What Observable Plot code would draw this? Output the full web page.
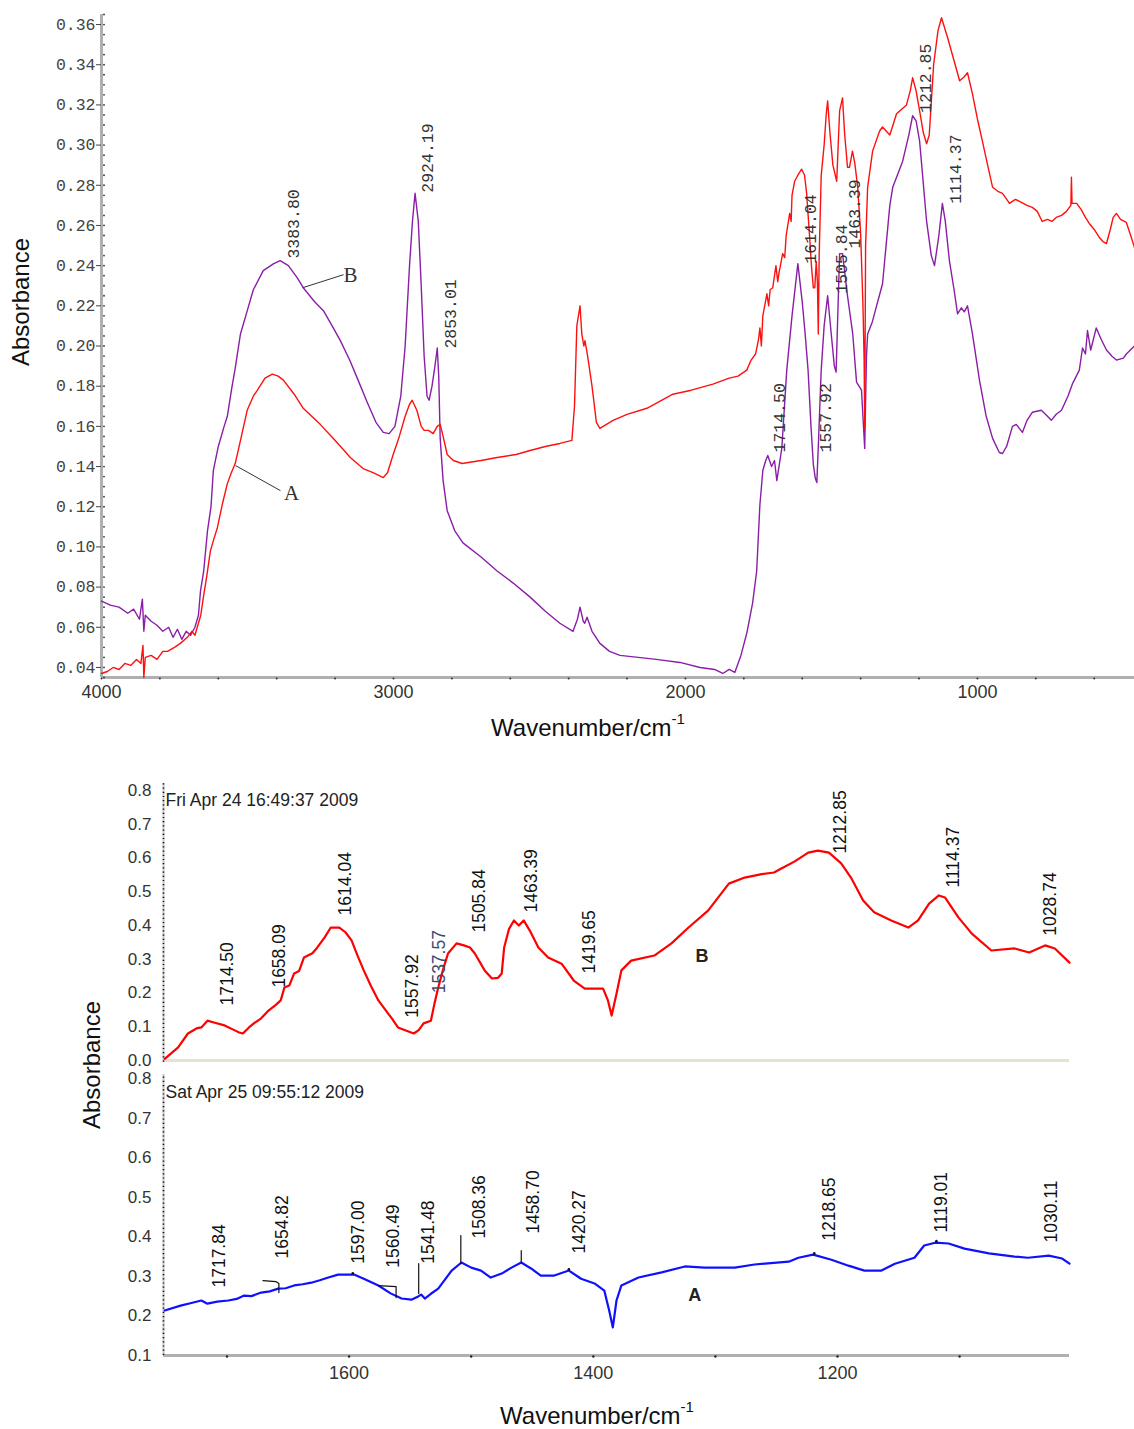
<!DOCTYPE html>
<html><head><meta charset="utf-8">
<script src="https://cdn.jsdelivr.net/npm/d3@7"></script>
<script src="https://cdn.jsdelivr.net/npm/@observablehq/plot@0.6"></script>
<style>
html,body{margin:0;padding:0;background:#fff;}
#wrap{position:relative;width:1134px;height:1429px;overflow:hidden;background:#fff;font-family:"Liberation Sans",Arial,sans-serif;}
#wrap svg{position:absolute;left:0;overflow:visible;}
.title{position:absolute;font-size:24px;color:#111;white-space:nowrap;line-height:1;}
.rot{transform:translate(-50%,-50%) rotate(-90deg);}
.hz{transform:translate(-50%,-50%);}
.title sup{font-size:15px;position:relative;top:-3px;}
</style></head><body><div id="wrap"></div>
<script>
// ---------------- TOP PANEL DATA (wavenumber cm-1, absorbance) ----------------
const topSpectrumA = [ // red, sample A
[4000,0.037],[3980,0.038],[3960,0.040],[3940,0.039],[3920,0.042],[3900,0.041],[3880,0.044],[3865,0.042],
[3858,0.051],[3855,0.035],[3850,0.045],[3830,0.046],[3810,0.044],[3790,0.048],[3774,0.048],[3750,0.050],
[3730,0.052],[3706,0.055],[3690,0.058],[3680,0.056],[3668,0.062],[3660,0.066],[3651,0.075],[3640,0.085],
[3627,0.098],[3615,0.104],[3603,0.1097],[3585,0.122],[3569,0.1315],[3555,0.137],[3542,0.1415],[3524,0.153],
[3501,0.168],[3480,0.175],[3466,0.178],[3440,0.184],[3415,0.186],[3395,0.185],[3377,0.183],[3340,0.176],
[3309,0.169],[3280,0.165],[3251,0.161],[3206,0.154],[3175,0.149],[3148,0.1445],[3104,0.139],[3070,0.137],
[3035,0.1345],[3020,0.137],[3001,0.146],[2980,0.155],[2960,0.165],[2945,0.171],[2936,0.173],[2920,0.168],
[2905,0.160],[2895,0.158],[2880,0.158],[2864,0.1564],[2850,0.160],[2840,0.161],[2830,0.155],[2816,0.146],
[2795,0.143],[2765,0.1415],[2700,0.143],[2645,0.1445],[2580,0.146],[2532,0.148],[2480,0.150],[2430,0.1515],
[2389,0.153],[2380,0.170],[2372,0.210],[2361,0.220],[2355,0.206],[2348,0.200],[2344,0.2027],[2335,0.195],
[2320,0.180],[2305,0.162],[2293,0.159],[2248,0.163],[2200,0.166],[2132,0.169],[2043,0.176],[1980,0.178],
[1906,0.181],[1850,0.184],[1820,0.185],[1800,0.187],[1790,0.188],[1775,0.193],[1760,0.196],[1750,0.203],
[1745,0.209],[1740,0.200],[1735,0.215],[1721,0.226],[1715,0.220],[1710,0.228],[1701,0.229],[1690,0.240],
[1684,0.232],[1680,0.236],[1667,0.246],[1660,0.244],[1655,0.255],[1643,0.266],[1638,0.262],[1635,0.275],
[1626,0.282],[1615,0.285],[1602,0.288],[1592,0.285],[1585,0.276],[1575,0.255],[1568,0.239],[1562,0.229],
[1557,0.229],[1552,0.242],[1548,0.232],[1545,0.206],[1542,0.245],[1535,0.285],[1525,0.300],[1518,0.315],
[1513,0.322],[1505,0.306],[1495,0.290],[1482,0.282],[1472,0.317],[1462,0.3235],[1455,0.306],[1445,0.289],
[1438,0.289],[1428,0.297],[1420,0.291],[1410,0.279],[1400,0.256],[1392,0.220],[1388,0.193],[1386,0.159],
[1383,0.250],[1376,0.279],[1359,0.297],[1335,0.307],[1325,0.309],[1300,0.305],[1277,0.3156],[1243,0.320],
[1230,0.327],[1222,0.3335],[1210,0.327],[1198,0.317],[1185,0.306],[1174,0.3007],[1165,0.305],[1150,0.340],
[1135,0.357],[1123,0.3634],[1102,0.3534],[1080,0.342],[1061,0.332],[1045,0.334],[1034,0.336],[1017,0.3255],
[1000,0.313],[983,0.302],[965,0.290],[948,0.279],[930,0.277],[914,0.276],[890,0.271],[870,0.273],
[856,0.272],[830,0.270],[812,0.269],[795,0.267],[778,0.262],[760,0.263],[745,0.262],[730,0.264],
[712,0.265],[695,0.267],[680,0.270],[678,0.284],[676,0.271],[660,0.271],[645,0.268],[630,0.264],
[617,0.261],[600,0.258],[582,0.254],[570,0.252],[558,0.251],[545,0.258],[535,0.264],[524,0.266],
[510,0.263],[490,0.2615],[475,0.255],[462,0.249]];

const topSpectrumB = [ // purple, sample B
[4000,0.073],[3970,0.071],[3940,0.070],[3910,0.067],[3890,0.069],[3870,0.064],[3860,0.074],[3855,0.058],
[3850,0.066],[3830,0.063],[3810,0.061],[3790,0.058],[3770,0.060],[3755,0.055],[3740,0.059],[3725,0.054],
[3710,0.058],[3695,0.056],[3680,0.060],[3668,0.066],[3661,0.078],[3650,0.088],[3637,0.108],[3625,0.120],
[3617,0.138],[3600,0.150],[3580,0.160],[3569,0.165],[3555,0.178],[3542,0.189],[3524,0.206],[3500,0.218],
[3480,0.228],[3446,0.2375],[3410,0.241],[3388,0.2425],[3360,0.240],[3330,0.234],[3309,0.229],[3270,0.222],
[3240,0.2176],[3210,0.210],[3182,0.2027],[3150,0.193],[3124,0.184],[3090,0.172],[3060,0.162],[3035,0.157],
[3015,0.1564],[2995,0.160],[2975,0.175],[2960,0.200],[2945,0.240],[2935,0.262],[2926,0.276],[2915,0.262],
[2905,0.230],[2895,0.195],[2885,0.175],[2878,0.173],[2868,0.180],[2858,0.190],[2850,0.199],[2845,0.185],
[2840,0.154],[2830,0.133],[2816,0.118],[2790,0.108],[2762,0.102],[2700,0.095],[2645,0.088],[2590,0.082],
[2532,0.075],[2480,0.068],[2430,0.062],[2385,0.058],[2370,0.064],[2361,0.070],[2350,0.063],[2345,0.062],
[2337,0.065],[2320,0.058],[2293,0.052],[2260,0.048],[2224,0.046],[2100,0.044],[2019,0.0425],[1950,0.040],
[1900,0.039],[1872,0.037],[1850,0.039],[1831,0.0375],[1810,0.046],[1790,0.057],[1770,0.072],[1756,0.088],
[1745,0.121],[1735,0.138],[1725,0.143],[1718,0.1455],[1705,0.140],[1695,0.143],[1687,0.133],[1670,0.149],
[1653,0.188],[1635,0.215],[1615,0.241],[1600,0.222],[1590,0.206],[1580,0.188],[1570,0.160],[1562,0.141],
[1555,0.134],[1550,0.132],[1545,0.150],[1535,0.188],[1525,0.210],[1513,0.225],[1500,0.205],[1490,0.190],
[1484,0.187],[1472,0.246],[1462,0.246],[1445,0.225],[1427,0.206],[1414,0.182],[1397,0.178],[1386,0.149],
[1380,0.195],[1376,0.206],[1360,0.212],[1325,0.231],[1300,0.270],[1290,0.279],[1256,0.292],[1235,0.305],
[1222,0.3146],[1210,0.312],[1198,0.302],[1174,0.262],[1158,0.245],[1147,0.240],[1132,0.255],[1120,0.271],
[1110,0.262],[1096,0.2425],[1080,0.228],[1068,0.216],[1055,0.219],[1045,0.217],[1034,0.220],[1017,0.206],
[993,0.183],[970,0.165],[948,0.154],[925,0.147],[914,0.1465],[900,0.150],[880,0.160],[867,0.161],
[846,0.157],[830,0.163],[812,0.167],[781,0.168],[760,0.165],[747,0.163],[730,0.166],[712,0.168],
[690,0.175],[675,0.181],[651,0.188],[640,0.199],[630,0.196],[623,0.2077],[612,0.198],[593,0.209],
[575,0.203],[558,0.198],[540,0.195],[524,0.193],[500,0.194],[490,0.196],[469,0.199],[462,0.200]];

const topYTicks = [0.04,0.06,0.08,0.10,0.12,0.14,0.16,0.18,0.20,0.22,0.24,0.26,0.28,0.30,0.32,0.34,0.36];
const topXTicks = [4000,3000,2000,1000];
// peak labels: [wavenumber, absorbance at label start, text]
const topPeakLabels = [
[3341,0.2435,"3383.80"],[2882,0.2763,"2924.19"],[2805,0.1987,"2853.01"],[1678,0.147,"1714.50"],
[1520,0.147,"1557.92"],[1572,0.241,"1614.04"],[1465,0.226,"1505.84"],[1421,0.2485,"1463.39"],
[1176,0.316,"1212.85"],[1075,0.2708,"1114.37"]];
const topCurveNames = [[3147,0.235,"B"],[3349,0.1266,"A"]];
const topLeaders = [[3311,0.229,3171,0.2355],[3541,0.1405,3387,0.128]];

// ---------------- BOTTOM PANEL DATA ----------------
const zoomSpectrumB = [ // red, Fri Apr 24
[1751,0.005],[1740,0.039],[1732,0.080],[1725,0.095],[1721,0.098],[1716,0.118],[1710,0.112],[1702,0.104],
[1694,0.090],[1690,0.083],[1687,0.080],[1682,0.098],[1678,0.110],[1672,0.125],[1666,0.148],[1660,0.165],
[1656,0.178],[1653,0.216],[1649,0.222],[1645,0.258],[1641,0.265],[1637,0.305],[1630,0.318],[1626,0.335],
[1620,0.365],[1615,0.394],[1608,0.394],[1603,0.380],[1598,0.356],[1593,0.310],[1588,0.267],[1582,0.220],
[1576,0.178],[1568,0.139],[1565,0.125],[1560,0.098],[1553,0.088],[1547,0.080],[1543,0.090],[1539,0.110],
[1533,0.118],[1530,0.170],[1527,0.216],[1523,0.270],[1519,0.317],[1512,0.347],[1506,0.341],[1501,0.335],
[1497,0.317],[1489,0.267],[1483,0.243],[1478,0.245],[1475,0.258],[1473,0.335],[1469,0.390],[1465,0.415],
[1461,0.400],[1457,0.415],[1452,0.385],[1445,0.335],[1437,0.305],[1426,0.287],[1416,0.237],[1407,0.213],
[1392,0.213],[1388,0.178],[1385,0.133],[1381,0.198],[1377,0.267],[1369,0.296],[1350,0.311],[1336,0.347],
[1322,0.394],[1306,0.444],[1289,0.524],[1276,0.542],[1262,0.552],[1252,0.557],[1246,0.569],[1235,0.590],
[1224,0.616],[1216,0.622],[1207,0.616],[1197,0.584],[1189,0.542],[1179,0.474],[1170,0.439],[1156,0.415],
[1142,0.394],[1134,0.415],[1125,0.465],[1117,0.489],[1112,0.483],[1101,0.424],[1090,0.376],[1074,0.326],
[1055,0.332],[1043,0.320],[1030,0.341],[1022,0.332],[1010,0.290]];

const zoomSpectrumA = [ // blue, Sat Apr 25
[1751,0.2136],[1738,0.226],[1730,0.232],[1721,0.239],[1716,0.231],[1708,0.236],[1699,0.239],[1692,0.243],
[1686,0.2515],[1680,0.250],[1672,0.259],[1665,0.262],[1658,0.269],[1652,0.270],[1645,0.277],[1638,0.280],
[1631,0.284],[1624,0.290],[1617,0.297],[1609,0.3045],[1596,0.3045],[1588,0.294],[1576,0.277],[1566,0.257],
[1557,0.244],[1549,0.241],[1543,0.250],[1541,0.254],[1538,0.244],[1533,0.256],[1527,0.269],[1516,0.3146],
[1508,0.335],[1500,0.322],[1492,0.3146],[1484,0.297],[1475,0.307],[1467,0.322],[1459,0.335],[1451,0.320],
[1443,0.302],[1432,0.302],[1420,0.3146],[1410,0.294],[1399,0.282],[1391,0.264],[1387,0.2136],[1384,0.171],
[1381,0.239],[1377,0.277],[1363,0.297],[1344,0.310],[1325,0.325],[1309,0.322],[1284,0.322],[1268,0.330],
[1240,0.337],[1232,0.347],[1220,0.355],[1205,0.342],[1191,0.327],[1178,0.3146],[1164,0.3146],[1153,0.332],
[1137,0.347],[1129,0.378],[1120,0.385],[1109,0.383],[1096,0.370],[1076,0.358],[1055,0.350],[1044,0.347],
[1027,0.3525],[1016,0.345],[1010,0.332]];

const upperYTicks = [0,0.1,0.2,0.3,0.4,0.5,0.6,0.7,0.8];
const lowerYTicks = [0.1,0.2,0.3,0.4,0.5,0.6,0.7,0.8];
const zoomXTicks = [1600,1400,1200];
const zoomXMinor = [1700,1600,1500,1400,1300,1200,1100];
const upperHeader = "Fri Apr 24 16:49:37 2009";
const lowerHeader = "Sat Apr 25 09:55:12 2009";
const upperPeakLabels = [
[1700,0.163,"1714.50"],[1657,0.216,"1658.09"],[1603,0.430,"1614.04"],[1548,0.127,"1557.92"],
[1526,0.199,"1537.57"],[1493.5,0.379,"1505.84"],[1451,0.4385,"1463.39"],[1403.5,0.258,"1419.65"],
[1198,0.613,"1212.85"],[1105,0.5126,"1114.37"],[1026,0.370,"1028.74"]];
const lowerPeakLabels = [
[1706.5,0.2717,"1717.84"],[1655,0.345,"1654.82"],[1592,0.332,"1597.00"],[1564,0.322,"1560.49"],
[1535,0.332,"1541.48"],[1493.5,0.3955,"1508.36"],[1449,0.408,"1458.70"],[1411.5,0.3576,"1420.27"],
[1207,0.390,"1218.65"],[1115,0.4106,"1119.01"],[1025,0.3854,"1030.11"]];
const upperCurveName = [[1311,0.308,"B"]];
const lowerCurveName = [[1317,0.2515,"A"]];
// peak marker strokes in lower spectrum: [marker id, wavenumber, absorbance]
const lowerMarkers = [
[1,1670.5,0.2894],[1,1660,0.2869],[1,1657.5,0.2818],[1,1657.5,0.2591],
[2,1576,0.2768],[2,1561.5,0.2742],[2,1561.5,0.2465],
[3,1543,0.332],[3,1543,0.2566],
[4,1508.5,0.403],[4,1508.5,0.332],
[5,1459,0.365],[5,1459,0.335]];
const lowerPeakDots = [[1597,0.308],[1420,0.318],[1219,0.358],[1119,0.389]];

// ---------------- DRAW ----------------
const W = 1134;
const wrap = document.getElementById("wrap");
const SANS = "Liberation Sans, Arial, sans-serif";
const MONO = "Liberation Mono, DejaVu Sans Mono, monospace";
const baseStyle = {background: "transparent", overflow: "visible", fontFamily: SANS};

const topXMinor = d3.range(4000, 461, -200);
const topYMinor = d3.range(0.035, 0.3651, 0.005);

const topPlot = Plot.plot({
  width: W, height: 745,
  marginLeft: 101, marginRight: 0, marginTop: 14, marginBottom: 68,
  style: baseStyle,
  x: {domain: [4000, 462]},
  y: {domain: [0.035, 0.365]},
  marks: [
    Plot.ruleX([4000], {y1: 0.035, y2: 0.365, stroke: "#b0b0b0", strokeWidth: 3}),
    Plot.ruleY([0.035], {x1: 4000, x2: 462, stroke: "#b0b0b0", strokeWidth: 3}),
    Plot.dot(topYMinor, {x: () => 4000, y: d => d, r: 0.9, fill: "#333", dx: 2.5}),
    Plot.dot(topXMinor, {x: d => d, y: () => 0.035, r: 1, fill: "#333", dy: 1}),
    Plot.axisY({ticks: topYTicks, tickFormat: d3.format(".2f"), tickSize: 5, tickPadding: 1,
      fontFamily: MONO, fontSize: 16.5, color: "#444", label: null}),
    Plot.axisX({ticks: topXTicks, tickFormat: d => String(d), tickSize: 0, tickPadding: 8,
      fontFamily: SANS, fontSize: 18, color: "#333", label: null}),
    Plot.line(topSpectrumB, {x: d => d[0], y: d => d[1], stroke: "#8a1ea6", strokeWidth: 1.4}),
    Plot.line(topSpectrumA, {x: d => d[0], y: d => d[1], stroke: "#ff1010", strokeWidth: 1.4}),
    Plot.link(topLeaders, {x1: d => d[0], y1: d => d[1], x2: d => d[2], y2: d => d[3], stroke: "#333", strokeWidth: 1}),
    Plot.text(topCurveNames, {x: d => d[0], y: d => d[1], text: d => d[2], fontFamily: "Liberation Serif, serif", fontSize: 21, fill: "#333", textAnchor: "middle"}),
    Plot.text(topPeakLabels, {x: d => d[0], y: d => d[1], text: d => d[2], rotate: -90, textAnchor: "start",
      fontFamily: MONO, fontSize: 16.5, fill: "#333"})
  ]
});
topPlot.style.top = "0px";
wrap.appendChild(topPlot);

const upperPlot = Plot.plot({
  width: W, height: 320,
  marginLeft: 163, marginRight: 65, marginTop: 30, marginBottom: 20,
  style: baseStyle,
  x: {domain: [1752, 1010], axis: null},
  y: {domain: [0, 0.8]},
  marks: [
    Plot.ruleY([0], {x1: 1752, x2: 1010, stroke: "#e6e2d2", strokeWidth: 3}),
    Plot.ruleX([1752], {y1: -0.005, y2: 0.82, stroke: "#c8c8c8", strokeWidth: 2}),
    Plot.ruleX([1752], {y1: -0.005, y2: 0.82, stroke: "#111", strokeWidth: 1.6, strokeDasharray: "1.2,3"}),
    Plot.axisY({ticks: upperYTicks, tickFormat: d3.format(".1f"), tickSize: 0, tickPadding: 12,
      fontFamily: SANS, fontSize: 17, color: "#333", label: null}),
    Plot.line(zoomSpectrumB, {x: d => d[0], y: d => d[1], stroke: "#ff0000", strokeWidth: 2.2}),
    Plot.text([upperHeader], {frameAnchor: "top-left", text: d => d, dx: 2, dy: 3, textAnchor: "start",
      fontFamily: SANS, fontSize: 17.5, fill: "#222"}),
    Plot.text(upperPeakLabels, {x: d => d[0], y: d => d[1], text: d => d[2], rotate: -90, textAnchor: "start",
      fontFamily: SANS, fontSize: 17.5, fill: d => d[2] === "1537.57" ? "#3e4a6e" : "#111"}),
    Plot.text(upperCurveName, {x: d => d[0], y: d => d[1], text: d => d[2], fontFamily: SANS, fontSize: 18,
      fontWeight: 600, fill: "#222"})
  ]
});
upperPlot.style.top = "760px";
wrap.appendChild(upperPlot);

const lowerPlot = Plot.plot({
  width: W, height: 364,
  marginLeft: 163, marginRight: 65, marginTop: 13, marginBottom: 74,
  style: baseStyle,
  x: {domain: [1752, 1010]},
  y: {domain: [0.1, 0.8]},
  marks: [
    Plot.ruleY([0.1], {x1: 1752, x2: 1010, stroke: "#b0b0b0", strokeWidth: 3}),
    Plot.ruleX([1752], {y1: 0.1, y2: 0.81, stroke: "#c8c8c8", strokeWidth: 2}),
    Plot.ruleX([1752], {y1: 0.1, y2: 0.81, stroke: "#111", strokeWidth: 1.6, strokeDasharray: "1.2,3"}),
    Plot.dot(zoomXMinor, {x: d => d, y: () => 0.1, r: 1.2, fill: "#222", dy: 1}),
    Plot.axisY({ticks: lowerYTicks, tickFormat: d3.format(".1f"), tickSize: 0, tickPadding: 12,
      fontFamily: SANS, fontSize: 17, color: "#333", label: null}),
    Plot.axisX({ticks: zoomXTicks, tickFormat: d => String(d), tickSize: 0, tickPadding: 11,
      fontFamily: SANS, fontSize: 18, color: "#333", label: null}),
    Plot.line(zoomSpectrumA, {x: d => d[0], y: d => d[1], stroke: "#1010ff", strokeWidth: 2.2}),
    Plot.line(lowerMarkers, {x: d => d[1], y: d => d[2], z: d => d[0], stroke: "#111", strokeWidth: 1.2}),
    Plot.dot(lowerPeakDots, {x: d => d[0], y: d => d[1], r: 1.3, fill: "#111"}),
    Plot.text([lowerHeader], {frameAnchor: "top-left", text: d => d, dx: 2, dy: 7, textAnchor: "start",
      fontFamily: SANS, fontSize: 17.5, fill: "#222"}),
    Plot.text(lowerPeakLabels, {x: d => d[0], y: d => d[1], text: d => d[2], rotate: -90, textAnchor: "start",
      fontFamily: SANS, fontSize: 17.5, fill: "#111"}),
    Plot.text(lowerCurveName, {x: d => d[0], y: d => d[1], text: d => d[2], fontFamily: SANS, fontSize: 18,
      fontWeight: 600, fill: "#222"})
  ]
});
lowerPlot.style.top = "1065px";
wrap.appendChild(lowerPlot);

// axis titles
function addTitle(html, left, top, rot) {
  const el = document.createElement("div");
  el.className = "title " + (rot ? "rot" : "hz");
  el.style.left = left + "px";
  el.style.top = top + "px";
  el.innerHTML = html;
  wrap.appendChild(el);
}
addTitle("Absorbance", 21, 302, true);
addTitle("Wavenumber/cm<sup>-1</sup>", 588, 727, false);
addTitle("Absorbance", 92, 1065, true);
addTitle("Wavenumber/cm<sup>-1</sup>", 597, 1415, false);
</script>
</body></html>
